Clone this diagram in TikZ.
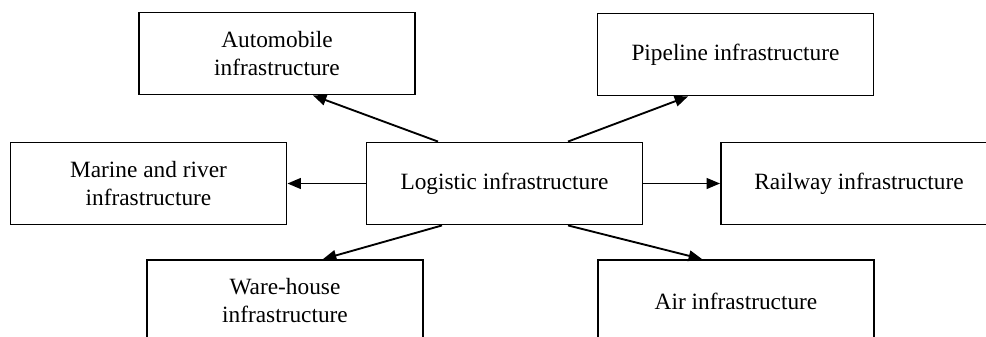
\documentclass[tikz,border=0pt]{standalone}
\usepackage{fontspec}
\setmainfont{Liberation Serif}
\usetikzlibrary{arrows.meta,calc}
\begin{document}
\begin{tikzpicture}[x=0.75pt,y=-0.75pt,
  box/.style={draw,line width=1.4pt,rectangle,inner sep=0pt,align=center,
    minimum width=276*0.75pt,minimum height=82*0.75pt,
    font=\fontsize{17.5pt}{21pt}\selectfont},
  lowbox/.style={box,minimum height=82*0.75pt},
  conn/.style={line width=1.4pt,-{Triangle[length=10pt,width=8pt]}}]
\useasboundingbox (0,0) rectangle (986,336);
\clip (0,0) rectangle (986,336);
\fill[white] (0,0) rectangle (986,336);
\node[box] (log) at (504.5,183.5) {Logistic infrastructure};
\node[box] (auto) at (277,53.5) {Automobile\\infrastructure};
\node[box] (pipe) at (735.5,54.5) {Pipeline infrastructure};
\node[box] (mar) at (148.5,183.5) {Marine and river\\infrastructure};
\node[box] (rail) at (859,183.5) {Railway infrastructure};
\node[lowbox] (ware) at (285,301) {Ware-house\\infrastructure};
\node[lowbox] (air) at (736,301) {Air infrastructure};
\draw[conn] ($(log.north)+(-66.5,0)$) -- ($(auto.south)+(36,0)$);
\draw[conn] ($(log.north)+(63.5,0)$) -- ($(pipe.south)+(-47.5,0)$);
\draw[conn] (log.west) -- (mar.east);
\draw[conn] (log.east) -- (rail.west);
\draw[conn] ($(log.south)+(-62.5,0)$) -- ($(ware.north)+(38,0)$);
\draw[conn] ($(log.south)+(63.5,0)$) -- ($(air.north)+(-34,0)$);
\end{tikzpicture}
\end{document}
